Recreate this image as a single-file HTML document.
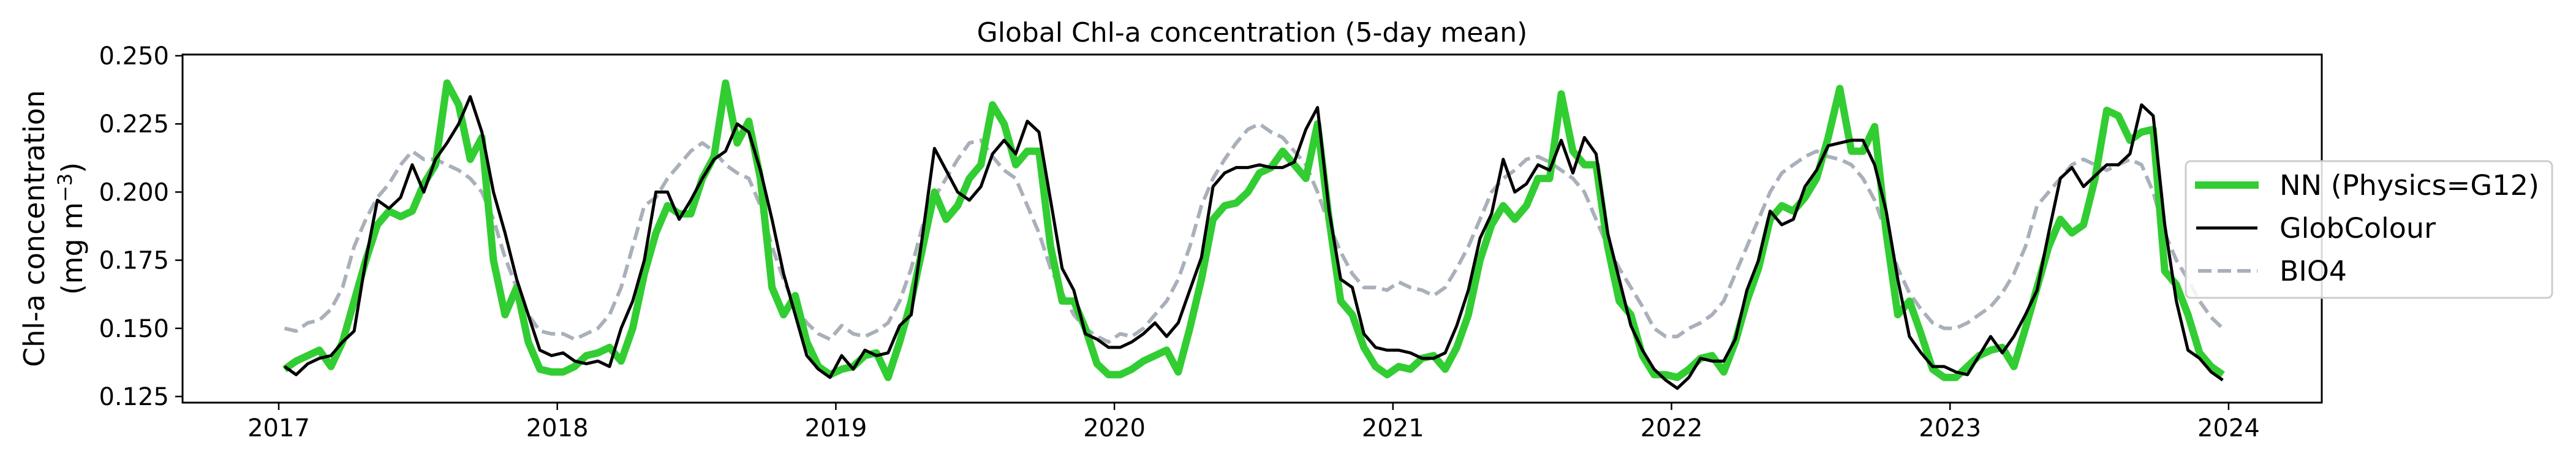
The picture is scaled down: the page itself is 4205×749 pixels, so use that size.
<!DOCTYPE html>
<html><head><meta charset="utf-8"><style>
html,body{margin:0;padding:0;background:#fff;}
svg{display:block;font-family:"DejaVu Sans","Liberation Sans",sans-serif;}
</style></head><body>
<svg id="chart" width="4205" height="749" viewBox="0 0 4205 749" xmlns="http://www.w3.org/2000/svg">
<rect width="4205" height="749" fill="#fff"/>
<text x="2044" y="68" font-size="44" text-anchor="middle" fill="#000">Global Chl-a concentration (5-day mean)</text>
<g font-size="46" fill="#000" text-anchor="middle">
<text transform="translate(72,373) rotate(-90)">Chl-a concentration</text>
<text transform="translate(134,373) rotate(-90)">(mg m<tspan dy="-17" font-size="32">−3</tspan><tspan dy="17">)</tspan></text>
</g>
<g id="plot"></g>
<g id="axes"></g>
<g>
<rect x="3568" y="263" width="598" height="223" rx="8" fill="#fff" fill-opacity="0.85" stroke="#cccccc" stroke-width="3"/>
<g>
<line x1="3583" y1="302" x2="3687" y2="302" stroke="#32cd32" stroke-width="12"/>
<text x="3721" y="318" font-size="45" textLength="424" lengthAdjust="spacingAndGlyphs" fill="#000">NN (Physics=G12)</text></g>
<g>
<line x1="3585" y1="372" x2="3685" y2="372" stroke="#000" stroke-width="5"/>
<text x="3721" y="388" font-size="45" textLength="255" lengthAdjust="spacingAndGlyphs" fill="#000">GlobColour</text></g>
<g>
<line x1="3588" y1="442" x2="3685" y2="442" stroke="#a9b0ba" stroke-width="6" stroke-dasharray="22,10"/>
<text x="3721" y="458" font-size="45" textLength="110" lengthAdjust="spacingAndGlyphs" fill="#000">BIO4</text></g>
</g>
</svg>
<script>
const startYear = 2017;
const stepsPerYear = 24;
const xTickLabels = ["2017","2018","2019","2020","2021","2022","2023","2024"];
const yTickLabels = ["0.125","0.150","0.175","0.200","0.225","0.250"];
const yTickValues = [0.125,0.150,0.175,0.200,0.225,0.250];
const globColour = [
0.136,0.133,0.137,0.139,0.140,0.145,0.149,0.175,0.197,0.194,0.198,0.210,0.200,0.212,0.218,0.225,0.235,0.222,0.200,0.185,0.168,0.155,0.142,0.140,
0.141,0.138,0.137,0.138,0.136,0.150,0.160,0.175,0.200,0.200,0.190,0.197,0.205,0.212,0.215,0.225,0.222,0.208,0.190,0.170,0.155,0.140,0.135,0.132,
0.140,0.135,0.142,0.140,0.141,0.151,0.155,0.185,0.216,0.208,0.200,0.197,0.202,0.214,0.219,0.214,0.226,0.222,0.197,0.172,0.164,0.148,0.146,0.143,
0.143,0.145,0.148,0.152,0.147,0.152,0.164,0.176,0.202,0.207,0.209,0.209,0.210,0.209,0.209,0.211,0.223,0.231,0.193,0.168,0.165,0.148,0.143,0.142,
0.142,0.141,0.139,0.139,0.141,0.151,0.164,0.183,0.192,0.212,0.200,0.203,0.210,0.208,0.219,0.207,0.220,0.214,0.185,0.168,0.151,0.142,0.135,0.131,
0.128,0.132,0.139,0.138,0.138,0.146,0.164,0.175,0.193,0.188,0.190,0.202,0.208,0.217,0.218,0.219,0.219,0.210,0.193,0.168,0.147,0.141,0.136,0.136,
0.134,0.133,0.140,0.147,0.141,0.147,0.155,0.164,0.185,0.205,0.209,0.202,0.206,0.210,0.210,0.214,0.232,0.228,0.188,0.160,0.142,0.139,0.134,0.131];
const nnPhysics = [
0.135,0.138,0.140,0.142,0.136,0.145,0.160,0.175,0.188,0.193,0.191,0.193,0.203,0.210,0.240,0.232,0.212,0.220,0.175,0.155,0.165,0.145,0.135,0.134,
0.134,0.136,0.140,0.141,0.143,0.138,0.150,0.170,0.185,0.195,0.192,0.192,0.205,0.213,0.240,0.218,0.226,0.205,0.165,0.155,0.162,0.145,0.136,0.133,
0.135,0.136,0.140,0.141,0.132,0.145,0.160,0.180,0.200,0.190,0.195,0.205,0.210,0.232,0.225,0.210,0.215,0.215,0.180,0.160,0.160,0.150,0.137,0.133,
0.133,0.135,0.138,0.140,0.142,0.134,0.150,0.168,0.190,0.195,0.196,0.200,0.207,0.209,0.215,0.210,0.205,0.225,0.190,0.160,0.155,0.143,0.136,0.133,
0.136,0.135,0.139,0.140,0.135,0.143,0.155,0.175,0.188,0.195,0.190,0.195,0.205,0.205,0.236,0.215,0.210,0.210,0.180,0.160,0.155,0.140,0.133,0.133,
0.132,0.135,0.139,0.140,0.134,0.145,0.160,0.172,0.190,0.195,0.193,0.198,0.205,0.220,0.238,0.215,0.215,0.224,0.185,0.155,0.160,0.148,0.135,0.132,
0.132,0.136,0.140,0.142,0.143,0.136,0.150,0.165,0.180,0.190,0.185,0.188,0.205,0.230,0.228,0.219,0.222,0.223,0.171,0.166,0.155,0.141,0.136,0.133];
const bio4 = [
0.150,0.149,0.152,0.153,0.157,0.165,0.180,0.190,0.198,0.203,0.210,0.215,0.212,0.212,0.210,0.208,0.205,0.200,0.190,0.176,0.165,0.155,0.149,0.148,
0.148,0.146,0.148,0.150,0.155,0.165,0.180,0.195,0.198,0.205,0.210,0.215,0.218,0.215,0.210,0.207,0.205,0.195,0.180,0.168,0.158,0.152,0.148,0.146,
0.151,0.148,0.147,0.149,0.152,0.160,0.172,0.188,0.198,0.205,0.212,0.218,0.219,0.213,0.208,0.205,0.195,0.185,0.172,0.163,0.155,0.150,0.147,0.145,
0.148,0.147,0.150,0.155,0.160,0.168,0.180,0.195,0.205,0.212,0.218,0.223,0.225,0.222,0.220,0.215,0.210,0.200,0.188,0.178,0.170,0.165,0.165,0.164,
0.167,0.165,0.164,0.162,0.165,0.172,0.180,0.190,0.200,0.205,0.208,0.212,0.213,0.211,0.208,0.205,0.200,0.190,0.180,0.172,0.165,0.158,0.150,0.147,
0.147,0.150,0.152,0.155,0.160,0.170,0.180,0.190,0.200,0.207,0.210,0.213,0.215,0.213,0.212,0.210,0.205,0.197,0.185,0.172,0.163,0.157,0.152,0.150,
0.150,0.152,0.155,0.158,0.163,0.170,0.180,0.195,0.200,0.205,0.210,0.212,0.210,0.208,0.210,0.212,0.210,0.200,0.185,0.175,0.168,0.160,0.154,0.150];

const NS = "http://www.w3.org/2000/svg";
const AX = {left:298, right:3790, top:89, bottom:657};
const X0 = 455, PX_PER_YEAR = 454.7;
const Y0PX = 647, PX_PER_UNIT = 111.2/0.025;
function xScale(year){ return X0 + (year - startYear) * PX_PER_YEAR; }
function yScale(v){ return Y0PX - (v - 0.125) * PX_PER_UNIT; }
function mk(tag, attrs, parent){ const e = document.createElementNS(NS, tag); for (const k in attrs) e.setAttribute(k, attrs[k]); parent.appendChild(e); return e; }

const plot = document.getElementById('plot');
function drawSeries(vals, stroke, width, dash, name){
  const pts = vals.map((v,i)=> xScale(startYear + (i+0.5)/stepsPerYear).toFixed(1)+','+yScale(v).toFixed(1)).join(' ');
  const attrs = {points:pts, fill:'none', stroke:stroke, 'stroke-width':width, 'stroke-linejoin':'round'};
  if (dash) attrs['stroke-dasharray'] = dash;
  const p = mk('polyline', attrs, plot);
  
  
}
drawSeries(bio4, '#a9b0ba', 6, '22,10', 'bio4-line');
drawSeries(nnPhysics, '#32cd32', 12, null, 'nn-physics-line');
drawSeries(globColour, '#000', 5, null, 'globcolour-line');

const axes = document.getElementById('axes');
const frame = mk('rect', {x:AX.left, y:AX.top, width:AX.right-AX.left, height:AX.bottom-AX.top, fill:'none', stroke:'#000', 'stroke-width':3}, axes);


xTickLabels.forEach((lab,i)=>{
  const x = xScale(parseInt(lab,10));
  const t = mk('line', {x1:x, y1:AX.bottom, x2:x, y2:AX.bottom+12, stroke:'#000', 'stroke-width':2.5}, axes);
  
  
  const tx = mk('text', {x:x, y:712, 'font-size':40, 'text-anchor':'middle', fill:'#000'}, axes);
  tx.textContent = lab;
  
  
});
yTickLabels.forEach((lab,i)=>{
  const y = yScale(yTickValues[i]);
  const t = mk('line', {x1:AX.left-12, y1:y, x2:AX.left, y2:y, stroke:'#000', 'stroke-width':2.5}, axes);
  
  
  const tx = mk('text', {x:AX.left-22, y:y+14, 'font-size':40, 'text-anchor':'end', fill:'#000'}, axes);
  tx.textContent = lab;
  
  
});
</script>
</body></html>
